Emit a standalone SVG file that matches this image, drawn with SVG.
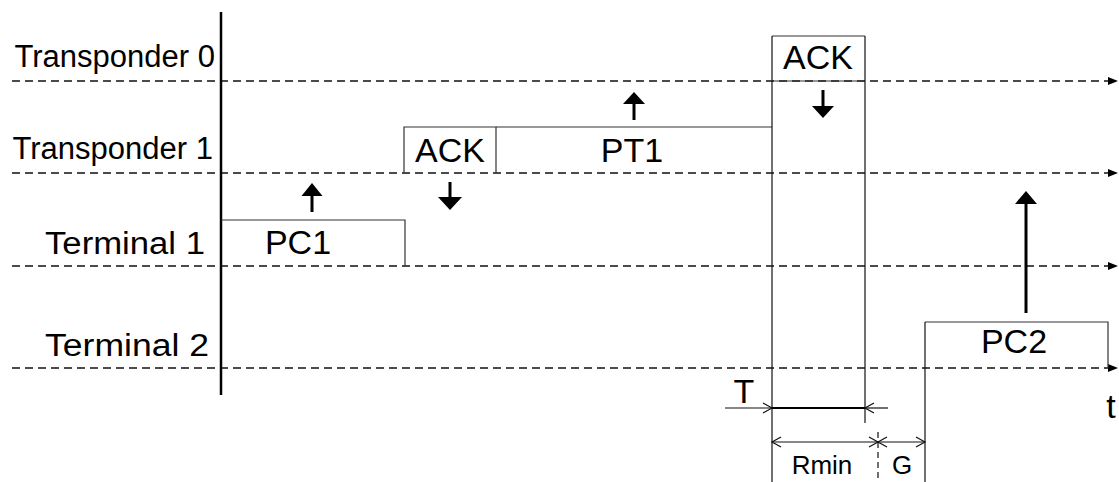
<svg xmlns="http://www.w3.org/2000/svg" width="1119" height="482" viewBox="0 0 1119 482">
<style>
.lbl{font-family:"Liberation Sans",Arial,sans-serif;font-size:31px;fill:#000}
.box{font-family:"Liberation Sans",Arial,sans-serif;font-size:34px;fill:#000;text-anchor:middle}
.dim{font-family:"Liberation Sans",Arial,sans-serif;font-size:26px;fill:#000;text-anchor:middle}
.lane{stroke:#111;stroke-width:1.3;stroke-dasharray:8 5;fill:none}
.edge{stroke:#333;stroke-width:1.2;fill:none}
.thin{stroke:#111;stroke-width:1.2;fill:none}
.sig{stroke:#000;stroke-width:3;fill:none}
.head{fill:#000;stroke:none}
</style>
<defs>
<marker id="lanehead" markerUnits="userSpaceOnUse" markerWidth="10" markerHeight="8" refX="9" refY="4" orient="auto"><path d="M0,0 L10,4 L0,8 Z" fill="#000"/></marker>
</defs>
<rect width="1119" height="482" fill="#fff"/>
<g id="lanes">
<line class="lane" x1="12" y1="81" x2="1117" y2="81" marker-end="url(#lanehead)"/>
<line class="lane" x1="12" y1="173" x2="1117" y2="173" marker-end="url(#lanehead)"/>
<line class="lane" x1="12" y1="266" x2="1117" y2="266" marker-end="url(#lanehead)"/>
<line class="lane" x1="12" y1="368" x2="1117" y2="368" marker-end="url(#lanehead)"/>
</g>
<g id="axis">
<line x1="221" y1="12" x2="221" y2="395" stroke="#000" stroke-width="2.5"/>
</g>
<g id="label-transponder0"><text class="lbl" x="215" y="67" text-anchor="end">Transponder 0</text></g>
<g id="label-transponder1"><text class="lbl" x="213" y="159" text-anchor="end">Transponder 1</text></g>
<g id="label-terminal1"><text class="lbl" x="205" y="254" text-anchor="end" textLength="160" lengthAdjust="spacingAndGlyphs">Terminal 1</text></g>
<g id="label-terminal2"><text class="lbl" x="209" y="356" text-anchor="end" textLength="164" lengthAdjust="spacingAndGlyphs">Terminal 2</text></g>
<g id="node-pc1">
<polyline class="edge" points="221,220 405,220 405,266"/>
<text class="box" x="298" y="254">PC1</text>
</g>
<g id="node-ack1">
<polyline class="edge" points="404,173 404,127 496,127 496,173"/>
<text class="box" x="450" y="162">ACK</text>
</g>
<g id="node-pt1">
<line class="edge" x1="496" y1="127" x2="772" y2="127"/>
<text class="box" x="632" y="162">PT1</text>
</g>
<g id="node-ack0">
<line class="edge" x1="772" y1="36" x2="865" y2="36"/>
<line class="edge" x1="772" y1="81" x2="865" y2="81"/>
<line class="thin" x1="772" y1="36" x2="772" y2="482"/>
<line class="thin" x1="865" y1="36" x2="865" y2="423"/>
<text class="box" x="818" y="69">ACK</text>
</g>
<g id="node-pc2">
<polyline class="edge" points="1108,368 1108,322 925,322"/>
<line class="thin" x1="925" y1="322" x2="925" y2="482"/>
<text class="box" x="1014" y="353">PC2</text>
</g>
<g id="connectors">
<line class="sig" x1="312" y1="212" x2="312" y2="193"/>
<polygon class="head" points="312,183 301.5,196 322.5,196"/>
<line class="sig" x1="450" y1="182" x2="450" y2="200"/>
<polygon class="head" points="450,210 438,197 462,197"/>
<line class="sig" x1="634" y1="120" x2="634" y2="101"/>
<polygon class="head" points="634,92 623,104 645,104"/>
<line class="sig" x1="823" y1="90" x2="823" y2="109"/>
<polygon class="head" points="823,118 812,106 834,106"/>
<line class="sig" x1="1026" y1="313" x2="1026" y2="201"/>
<polygon class="head" points="1026,191 1015,204 1037,204"/>
</g>
<g id="dimensions">
<line class="thin" x1="725" y1="408" x2="772" y2="408"/>
<polyline class="thin" points="763,403 772,408 763,413"/>
<line x1="772" y1="408" x2="865" y2="408" stroke="#000" stroke-width="1.8"/>
<line class="thin" x1="865" y1="408" x2="888" y2="408"/>
<polyline class="thin" points="874,403 865,408 874,413"/>
<line class="thin" x1="772" y1="442" x2="925" y2="442"/>
<polyline class="thin" points="781,437 772,442 781,447"/>
<polyline class="thin" points="869,437 878,442 869,447"/>
<polyline class="thin" points="887,437 878,442 887,447"/>
<polyline class="thin" points="916,437 925,442 916,447"/>
<line class="thin" x1="878" y1="432" x2="878" y2="482" stroke-dasharray="6 4"/>
<text class="box" x="744" y="403">T</text>
<text class="box" x="1111" y="418">t</text>
<text class="dim" x="822" y="474">Rmin</text>
<text class="dim" x="902" y="474">G</text>
</g>
</svg>
